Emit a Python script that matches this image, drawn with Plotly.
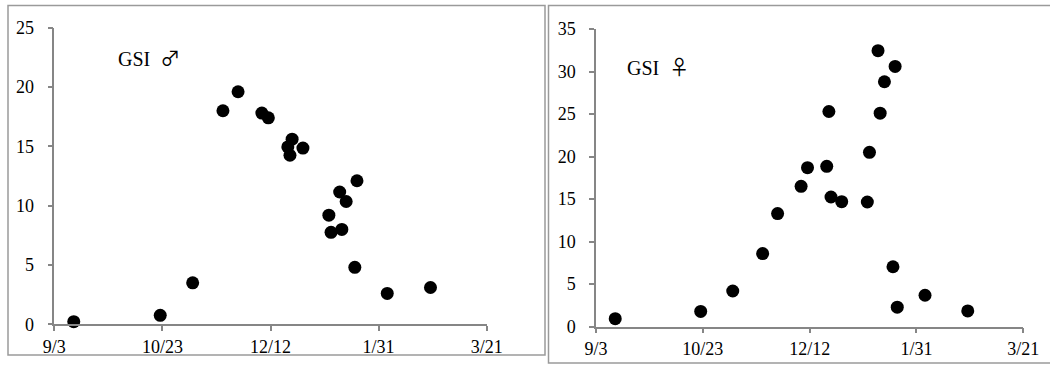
import plotly.graph_objects as go

# Male GSI
male_dates = ["2011-09-12", "2011-10-22", "2011-11-06", "2011-11-20", "2011-11-27",
              "2011-12-08", "2011-12-11", "2011-12-20", "2011-12-22", "2011-12-21",
              "2011-12-27", "2012-01-08", "2012-01-09", "2012-01-13", "2012-01-14",
              "2012-01-16", "2012-01-21", "2012-01-20", "2012-02-04", "2012-02-24"]
male_gsi = [0.22, 0.76, 3.5, 18.0, 19.6, 17.8, 17.4, 14.95, 15.6, 14.25,
            14.85, 9.2, 7.75, 11.15, 8.0, 10.35, 12.1, 4.8, 2.6, 3.1]

# Female GSI
female_dates = ["2011-09-12", "2011-10-22", "2011-11-06", "2011-11-20", "2011-11-27",
                "2011-12-08", "2011-12-11", "2011-12-20", "2011-12-21", "2011-12-22",
                "2011-12-27", "2012-01-08", "2012-01-09", "2012-01-13", "2012-01-14",
                "2012-01-16", "2012-01-21", "2012-01-20", "2012-01-22", "2012-02-04",
                "2012-02-24"]
female_gsi = [0.94, 1.8, 4.2, 8.6, 13.3, 16.5, 18.7, 18.85, 25.3, 15.25,
              14.7, 14.66, 20.5, 32.45, 25.1, 28.8, 30.6, 7.05, 2.3, 3.7, 1.85]

x_tickvals = ["2011-09-03", "2011-10-23", "2011-12-12", "2012-01-31", "2012-03-21"]
x_ticktext = ["9/3", "10/23", "12/12", "1/31", "3/21"]
male_yticks = [0, 5, 10, 15, 20, 25]
female_yticks = [0, 5, 10, 15, 20, 25, 30, 35]

W, H = 1050, 365
FONT = "Liberation Serif"
AX = "#868686"

def px(x):
    return x / W

def py(y):
    return (H - y) / H

fig = go.Figure()
fig.add_trace(go.Scatter(x=male_dates, y=male_gsi, mode="markers",
                         marker=dict(size=13, color="black"),
                         xaxis="x", yaxis="y", cliponaxis=False, showlegend=False))
fig.add_trace(go.Scatter(x=female_dates, y=female_gsi, mode="markers",
                         marker=dict(size=13, color="black"),
                         xaxis="x2", yaxis="y2", cliponaxis=False, showlegend=False))

xcommon = dict(type="date", range=[x_tickvals[0], x_tickvals[-1]],
               tickmode="array", tickvals=x_tickvals, ticktext=x_ticktext,
               showgrid=False, zeroline=False, showline=True, linecolor=AX,
               linewidth=1.5, ticks="outside", ticklen=5, tickcolor=AX,
               tickwidth=1.5, automargin=False,
               tickfont=dict(family=FONT, size=18, color="black"))
ycommon = dict(showgrid=False, zeroline=False, showline=True, linecolor=AX,
               linewidth=1.5, ticks="outside", ticklen=5, tickcolor=AX,
               tickwidth=1.5, automargin=False, ticklabelstandoff=10,
               tickfont=dict(family=FONT, size=18, color="black"),
               tickmode="array")

SYM = "<span style='font-family:Noto Sans CJK JP;font-size:20px'>{}</span>"

fig.update_layout(
    width=W, height=H,
    margin=dict(l=0, r=0, t=0, b=0, pad=0, autoexpand=False),
    paper_bgcolor="white", plot_bgcolor="white",
    xaxis=dict(domain=[px(54.3), px(486.7)], anchor="y", **xcommon),
    yaxis=dict(domain=[py(324.3), py(27.7)], anchor="x", range=[0, 25],
               tickvals=male_yticks, **ycommon),
    xaxis2=dict(domain=[px(596), px(1023.3)], anchor="y2", **xcommon),
    yaxis2=dict(domain=[py(326.7), py(29)], anchor="x2", range=[0, 35],
                tickvals=female_yticks, **ycommon),
    shapes=[
        dict(type="rect", xref="paper", yref="paper",
             x0=px(8), x1=px(545), y0=py(355), y1=py(5.5),
             line=dict(color="#9a9a9a", width=1.5)),
        dict(type="rect", xref="paper", yref="paper",
             x0=px(548.5), x1=px(1060), y0=py(363), y1=py(5.5),
             line=dict(color="#9a9a9a", width=1.5)),
    ],
    annotations=[
        dict(text="GSI  " + SYM.format("♂"), xref="paper", yref="paper",
             x=px(116), y=py(57), xanchor="left", yanchor="middle", showarrow=False,
             font=dict(family=FONT, size=20, color="black")),
        dict(text="GSI  " + SYM.format("♀"), xref="paper", yref="paper",
             x=px(625), y=py(66), xanchor="left", yanchor="middle", showarrow=False,
             font=dict(family=FONT, size=20, color="black")),
    ],
)

fig.write_html("out.html", config={"displayModeBar": False},
               post_script="document.body.style.margin='0';document.body.style.overflow='hidden';")
